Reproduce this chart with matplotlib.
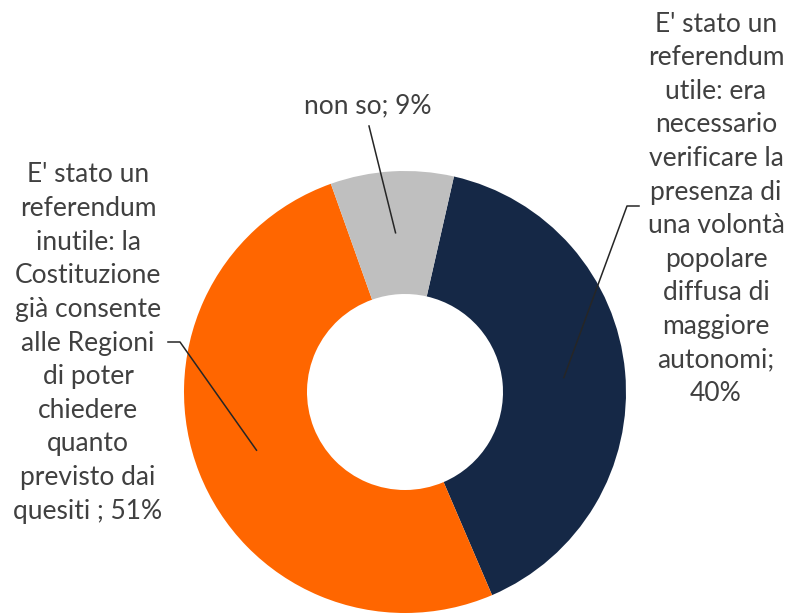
import numpy as np
import matplotlib
matplotlib.use("Agg")
import matplotlib.pyplot as plt

# data
labels = ["E' stato un\nreferendum\nutile: era\nnecessario\nverificare la\npresenza di\nuna volontà\npopolare\ndiffusa di\nmaggiore\nautonomi;\n40%",
          "E' stato un\nreferendum\ninutile: la\nCostituzione\ngià consente\nalle Regioni\ndi poter\nchiedere\nquanto\nprevisto dai\nquesiti ; 51%",
          "non so; 9%"]
values = [40, 51, 9]
colors = ["#152846", "#FF6600", "#BFBFBF"]

# layout (pixel coords, y measured from top)
W, H = 786, 615
center = (405, 392)
r_out, r_in = 221, 98
text_pos = [(716, 209), (88, 343), (368, 106)]
elbow = [[(639, 206), (627, 206)], [(168, 342), (180, 342)], [(369, 126)]]

plt.rcParams['font.family'] = ['Lato', 'DejaVu Sans']
fig = plt.figure(figsize=(W / 100, H / 100), dpi=100)
ax = fig.add_axes([0, 0, 1, 1])

wedges, _ = ax.pie(values, colors=colors, startangle=77.2, counterclock=False,
                   center=(center[0], H - center[1]), radius=r_out,
                   wedgeprops=dict(width=r_out - r_in, linewidth=0))
ax.set_xlim(0, W)
ax.set_ylim(0, H)
ax.set_aspect('equal')
ax.axis('off')

r_mid = (r_out + r_in) / 2
for w, lab, tp, el in zip(wedges, labels, text_pos, elbow):
    ang = np.deg2rad((w.theta1 + w.theta2) / 2)
    px = center[0] + r_mid * np.cos(ang)
    py = H - center[1] + r_mid * np.sin(ang)
    xs = [p[0] for p in el] + [px]
    ys = [H - p[1] for p in el] + [py]
    ax.plot(xs, ys, color="#262626", lw=1.1)
    ax.text(tp[0], H - tp[1], lab, ha='center', va='center', ma='center',
            fontsize=19, color="#404040", linespacing=1.43)

fig.savefig("out.png", dpi=100)
